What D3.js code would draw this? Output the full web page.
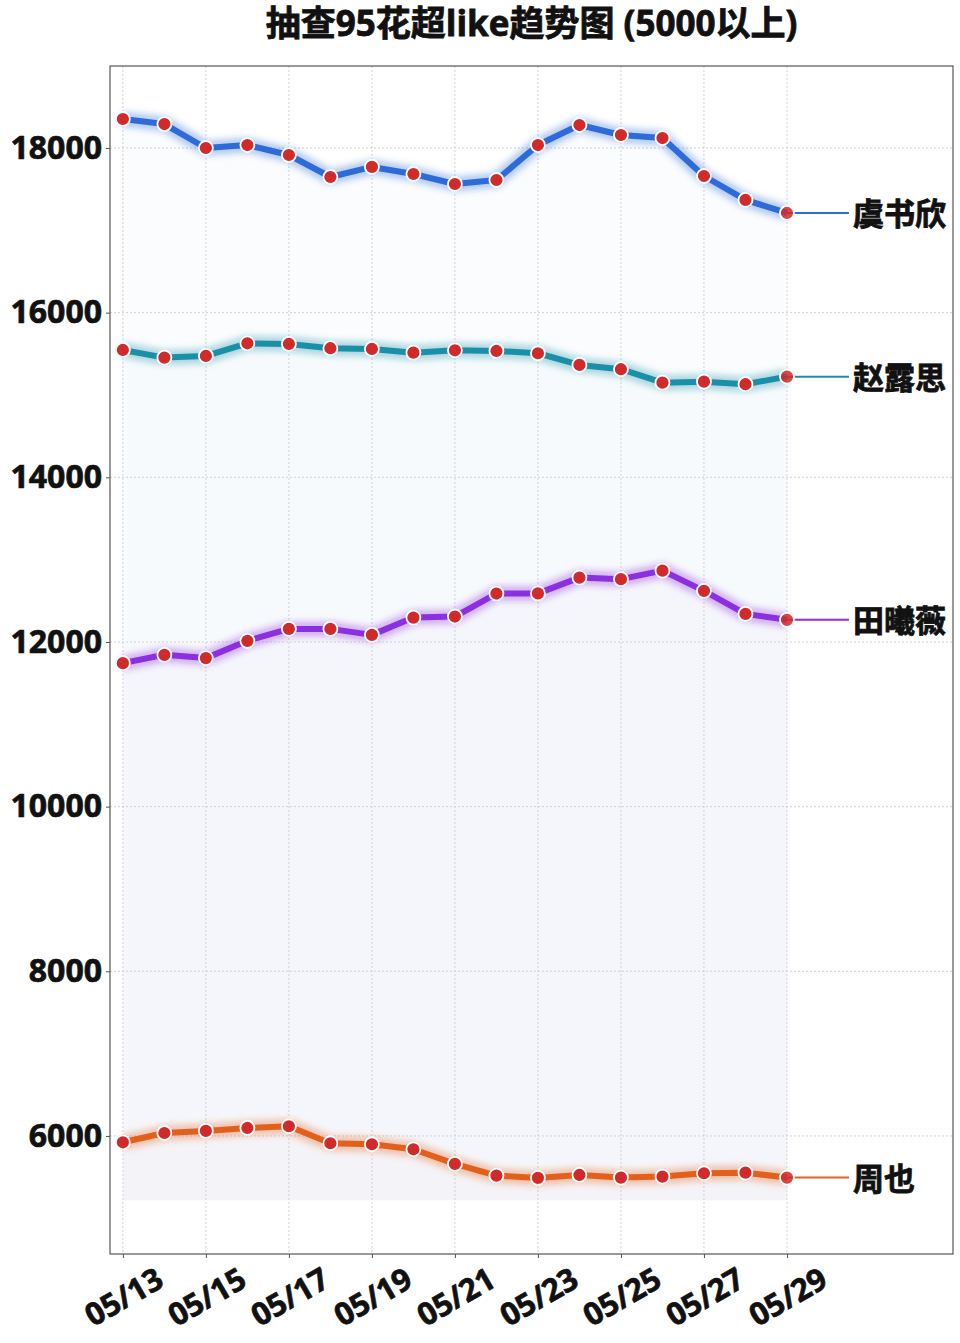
<!DOCTYPE html>
<html>
<head>
<meta charset="utf-8">
<script src="https://cdn.jsdelivr.net/npm/d3@7"></script>
<style>
  body { margin: 0; background: #fff; }
  text { font-family: "Open Sans", "Noto Sans CJK SC", sans-serif; font-weight: 700; }
</style>
</head>
<body>
<div id="chart-area"></div>
<script>
// data
var dates = ["05/13","05/14","05/15","05/16","05/17","05/18","05/19","05/20","05/21",
             "05/22","05/23","05/24","05/25","05/26","05/27","05/28","05/29"];
var tickDates = ["05/13","05/15","05/17","05/19","05/21","05/23","05/25","05/27","05/29"];
var yTicks = [6000, 8000, 10000, 12000, 14000, 16000, 18000];

var names = ["虞书欣", "赵露思", "田曦薇", "周也"];
var colors = ["#2d6bd8", "#1a8fa8", "#8b2fe0", "#e2601c"];

var yushuxin = [18352, 18291, 18000, 18036, 17915, 17648, 17770, 17684, 17563,
                17611, 18036, 18279, 18158, 18121, 17660, 17369, 17211];
var zhaolusi = [15547, 15454, 15474, 15628, 15620, 15568, 15559, 15514, 15543,
                15535, 15507, 15365, 15313, 15150, 15162, 15131, 15223];
var tianxiwei = [11743, 11844, 11804, 12014, 12159, 12159, 12086, 12296, 12309,
                 12588, 12590, 12782, 12763, 12867, 12621, 12341, 12269];
var zhouye = [5923, 6036, 6061, 6097, 6118, 5911, 5899, 5838, 5660,
              5518, 5490, 5526, 5494, 5506, 5547, 5554, 5494];
var seriesValues = [yushuxin, zhaolusi, tianxiwei, zhouye];
var fillBase = 5220;

// layout
var W = 960, H = 1343;
var margin = { top: 66, right: 7, bottom: 89, left: 110 };
var width = W - margin.left - margin.right,
    height = H - margin.top - margin.bottom;

var x = d3.scaleLinear().domain([-0.31, 20]).range([0, width]);
var y = d3.scaleLinear().domain([4566, 18996]).range([height, 0]);

var svg = d3.select("#chart-area").append("svg")
  .attr("width", W).attr("height", H);

var defs = svg.append("defs");
defs.append("filter").attr("id", "glow")
  .attr("x", "-10%").attr("y", "-50%").attr("width", "120%").attr("height", "200%")
  .append("feGaussianBlur").attr("stdDeviation", 3);

// heavier text like the original bold face
function heavy(sel, w) {
  sel.attr("stroke", "#111").attr("stroke-width", w).attr("paint-order", "stroke");
}

// title
svg.append("text")
  .attr("x", margin.left + width / 2)
  .attr("y", 36)
  .attr("text-anchor", "middle")
  .attr("font-size", 35)
  .attr("fill", "#111")
  .text("抽查95花超like趋势图 (5000以上)")
  .call(heavy, 0.8);

var g = svg.append("g")
  .attr("transform", `translate(${margin.left},${margin.top})`);

// soft fills under each line
seriesValues.forEach(function(vals, k) {
  var area = d3.area()
    .x(function(d, i) { return x(i); })
    .y0(y(fillBase))
    .y1(function(d) { return y(d); });
  g.append("path")
    .datum(vals)
    .attr("d", area)
    .attr("fill", colors[k])
    .attr("fill-opacity", 0.018);
});

// grid
g.append("g").selectAll("line")
  .data(yTicks).enter().append("line")
    .attr("x1", 0).attr("x2", width)
    .attr("y1", function(d) { return y(d); })
    .attr("y2", function(d) { return y(d); })
    .attr("stroke", "#c8c8c8")
    .attr("stroke-width", 0.8)
    .attr("stroke-dasharray", "2,2");

g.append("g").selectAll("line")
  .data(tickDates).enter().append("line")
    .attr("x1", function(d) { return x(dates.indexOf(d)); })
    .attr("x2", function(d) { return x(dates.indexOf(d)); })
    .attr("y1", 0).attr("y2", height)
    .attr("stroke", "#c8c8c8")
    .attr("stroke-width", 0.8)
    .attr("stroke-dasharray", "2,2");

// axes
var yAxisCall = d3.axisLeft(y).tickValues(yTicks).tickSize(4).tickPadding(4)
  .tickFormat(d3.format("d"));
var xAxisCall = d3.axisBottom(x)
  .tickValues(tickDates.map(function(d) { return dates.indexOf(d); }))
  .tickSize(4)
  .tickFormat(function(i) { return dates[i]; });

var yAxis = g.append("g").call(yAxisCall);
yAxis.selectAll("text").attr("font-size", 32).attr("fill", "#111").call(heavy, 0.7);

var xAxis = g.append("g")
  .attr("transform", `translate(0,${height})`)
  .call(xAxisCall);
xAxis.selectAll("text")
  .attr("font-size", 31)
  .attr("fill", "#111")
  .attr("text-anchor", "middle")
  .attr("dy", null)
  .attr("y", 0)
  .attr("transform", "translate(0,42) rotate(-30)")
  .attr("dominant-baseline", "central")
  .call(heavy, 0.7);

[yAxis, xAxis].forEach(function(a) {
  a.select(".domain").remove();
  a.selectAll(".tick line").attr("stroke", "#555");
});

// frame
g.append("rect")
  .attr("width", width).attr("height", height)
  .attr("fill", "none").attr("stroke", "#555").attr("stroke-width", 1.2);

// lines
var line = d3.line()
  .x(function(d, i) { return x(i); })
  .y(function(d) { return y(d); });

seriesValues.forEach(function(vals, k) {
  var last = vals.length - 1;
  // glow
  g.append("path").datum(vals)
    .attr("d", line)
    .attr("fill", "none")
    .attr("stroke", colors[k])
    .attr("stroke-opacity", 0.35)
    .attr("stroke-width", 15)
    .attr("stroke-linejoin", "round")
    .attr("filter", "url(#glow)");
  g.append("path").datum(vals)
    .attr("d", line)
    .attr("fill", "none")
    .attr("stroke", colors[k])
    .attr("stroke-width", 6)
    .attr("stroke-linejoin", "round");

  // connector + name
  g.append("line")
    .attr("x1", x(last)).attr("x2", x(last) + 62)
    .attr("y1", y(vals[last])).attr("y2", y(vals[last]))
    .attr("stroke", colors[k])
    .attr("stroke-width", 2);

  g.append("g").selectAll("circle")
    .data(vals).enter().append("circle")
      .attr("cx", function(d, i) { return x(i); })
      .attr("cy", function(d) { return y(d); })
      .attr("r", 7)
      .attr("fill", "#d12a2a")
      .attr("fill-opacity", function(d, i) { return i === last ? 0.85 : 1; })
      .attr("stroke", "#fff")
      .attr("stroke-width", 1.8);

  g.append("text")
    .attr("x", x(last) + 66)
    .attr("y", y(vals[last]))
    .attr("dominant-baseline", "central")
    .attr("font-size", 31)
    .attr("fill", "#111")
    .text(names[k])
    .call(heavy, 0.8);
});
</script>
</body>
</html>
